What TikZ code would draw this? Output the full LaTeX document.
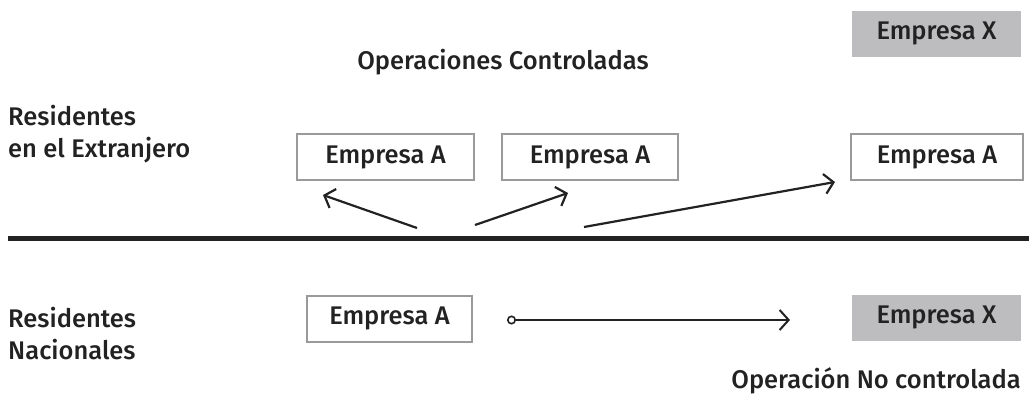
\documentclass[tikz,border=0pt]{standalone}
\usepackage{fontspec}
\setmainfont{Fira Sans}[UprightFont={* Medium}]
\usetikzlibrary{arrows.meta}
\definecolor{txt}{HTML}{222222}
\definecolor{boxline}{HTML}{9A9A9A}
\definecolor{boxfill}{HTML}{BDBDC0}
\begin{document}
\begin{tikzpicture}[x=1pt,y=-1pt,
  every node/.style={text=txt,font=\fontsize{25.5}{30}\selectfont},
  wbox/.style={draw=boxline,line width=2pt,fill=white,minimum height=46pt,inner sep=0pt},
  gbox/.style={fill=boxfill,minimum height=46pt,inner sep=0pt},
  lbl/.style={anchor=base west,inner sep=0pt},
  arr/.style={line width=2.2pt,draw=txt,-{Straight Barb[length=9pt,width=20pt,line width=2.2pt]}}]
\useasboundingbox (0,0) rectangle (1029,394);
% labels
\node[anchor=base,inner sep=0pt] (title) at (503,69) {Operaciones Controladas};
\node[lbl] (ext1) at (8,125) {Residentes};
\node[lbl] (ext2) at (8,157) {en el Extranjero};
\node[lbl] (nac1) at (8,327) {Residentes};
\node[lbl] (nac2) at (8,359) {Nacionales};
\node[anchor=base east,inner sep=0pt] (noctl) at (1021,388) {Operación No controlada};
% boxes
\node[gbox,minimum width=169pt] (xtop) at (936.5,33.5) {Empresa X};
\node[wbox,minimum width=177pt] (a1) at (385.5,157) {Empresa A};
\node[wbox,minimum width=176pt] (a2) at (590,157) {Empresa A};
\node[wbox,minimum width=172pt] (a3) at (937,157) {Empresa A};
\node[wbox,minimum width=165pt] (anac) at (389.5,318.5) {Empresa A};
\node[gbox,minimum width=169pt] (xbot) at (936.5,317.5) {Empresa X};
% divider
\coordinate (dl) at (8,238);
\coordinate (dr) at (1029,238);
\draw[line width=5pt,draw=txt] (dl) -- (dr);
% arrows
\coordinate (t1) at (417,228); \coordinate (h1) at (323,195);
\coordinate (t2) at (475,225); \coordinate (h2) at (568,193);
\coordinate (t3) at (584,227); \coordinate (h3) at (835,182);
\draw[arr] (t1) -- (h1);
\draw[arr] (t2) -- (h2);
\draw[arr] (t3) -- (h3);
\coordinate (c0) at (507,320); \coordinate (c1) at (790,320);
\draw[line width=1.6pt,draw=txt,{Circle[open,length=9pt,width=9pt,line width=1.6pt]}-{Straight Barb[length=9pt,width=20pt,line width=2pt]}] (c0) -- (c1);
\end{tikzpicture}
\end{document}
